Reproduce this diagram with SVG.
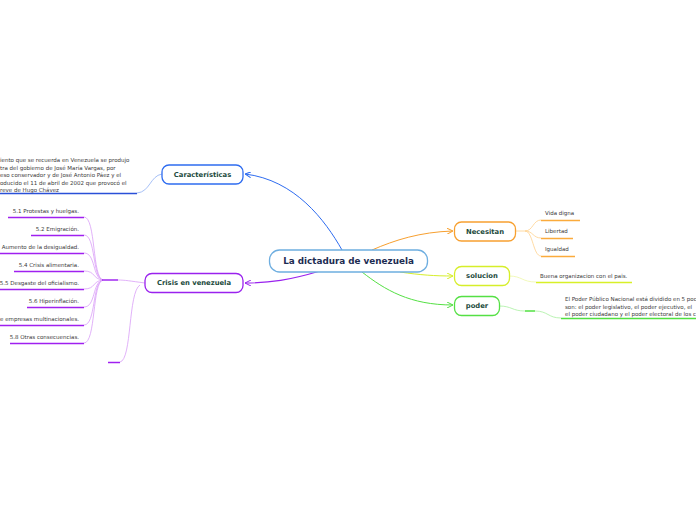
<svg xmlns="http://www.w3.org/2000/svg" width="696" height="520" viewBox="0 0 696 520">
<defs>
<style>
.node rect{fill:#fff;stroke-width:1.3}
.lbl{font-family:"DejaVu Sans",Verdana,sans-serif;font-weight:bold;fill:#1b4a3c;text-anchor:middle;dominant-baseline:central}
.sub{font-family:"DejaVu Sans",Verdana,sans-serif;font-size:5.5px;fill:#3a3a3a}
.r{text-anchor:end}
.c path{fill:none}
</style>
<marker id="aB" viewBox="0 0 6 6" refX="6" refY="3" markerWidth="6" markerHeight="6" markerUnits="userSpaceOnUse" orient="auto"><path d="M0,0 L6,3 L0,6" fill="none" stroke="#2e6cf0" stroke-width="1"/></marker>
<marker id="aP" viewBox="0 0 6 6" refX="6" refY="3" markerWidth="6" markerHeight="6" markerUnits="userSpaceOnUse" orient="auto"><path d="M0,0 L6,3 L0,6" fill="none" stroke="#9a22ee" stroke-width="1"/></marker>
<marker id="aO" viewBox="0 0 6 6" refX="6" refY="3" markerWidth="6" markerHeight="6" markerUnits="userSpaceOnUse" orient="auto"><path d="M0,0 L6,3 L0,6" fill="none" stroke="#f7a030" stroke-width="1"/></marker>
<marker id="aY" viewBox="0 0 6 6" refX="6" refY="3" markerWidth="6" markerHeight="6" markerUnits="userSpaceOnUse" orient="auto"><path d="M0,0 L6,3 L0,6" fill="none" stroke="#d6ee2a" stroke-width="1"/></marker>
<marker id="aG" viewBox="0 0 6 6" refX="6" refY="3" markerWidth="6" markerHeight="6" markerUnits="userSpaceOnUse" orient="auto"><path d="M0,0 L6,3 L0,6" fill="none" stroke="#55e044" stroke-width="1"/></marker>
</defs>
<rect width="696" height="520" fill="#fff"/>

<g id="connectors" class="c">
<path d="M342,250 C325,220 295,180 245,174" stroke="#2e6cf0" stroke-width="1" marker-end="url(#aB)"/>
<path d="M320,271 C290,280 270,283 245,283" stroke="#9a22ee" stroke-width="1.2" marker-end="url(#aP)"/>
<path d="M372,250 C395,240 420,232 453,231" stroke="#f7a030" stroke-width="1" marker-end="url(#aO)"/>
<path d="M400,272 C420,275 435,276 453,276" stroke="#d6ee2a" stroke-width="1" marker-end="url(#aY)"/>
<path d="M362,272 C385,290 410,305 453,305" stroke="#55e044" stroke-width="1" marker-end="url(#aG)"/>

<path d="M162,174 C150,176 150,192 137,193" stroke="#8fb0f4" stroke-width="0.8"/>
<path d="M0,193.5 H137" stroke="#2a50d8" stroke-width="1.5"/>

<g stroke="#d99ef8" stroke-width="0.8">
<path d="M145,283 C130,281 125,280 118,280"/>
<path d="M103,280 C92,278 96,217 84,217"/>
<path d="M103,280 C92,278 96,235 84,235"/>
<path d="M103,280 C92,278 96,253 84,253"/>
<path d="M103,280 C92,279 96,271 84,271"/>
<path d="M103,280 C92,281 96,289 84,289"/>
<path d="M103,280 C92,282 96,307 84,307"/>
<path d="M103,280 C92,282 96,325 84,325"/>
<path d="M103,280 C92,282 96,343 84,343"/>
<path d="M140,285 C128,292 132,360 120,362"/>
</g>
<path d="M102,280 H118" stroke="#a028f0" stroke-width="1.5"/>
<g stroke="#a020f0" stroke-width="1.5">
<path d="M8,217.5 H84"/>
<path d="M31,235.5 H84"/>
<path d="M0,253.5 H84"/>
<path d="M14,271.5 H84"/>
<path d="M0,289.5 H84"/>
<path d="M27,307.5 H84"/>
<path d="M0,325.5 H84"/>
<path d="M10,343.5 H84"/>
<path d="M108,362.5 H120"/>
</g>

<g stroke="#ffd08c" stroke-width="0.8">
<path d="M516,231 H525"/>
<path d="M525,231 C533,231 533,220 541,220"/>
<path d="M525,231 C533,231 533,238 541,238"/>
<path d="M525,231 C533,231 533,256 541,256"/>
</g>
<g stroke="#fbab3c" stroke-width="1.5">
<path d="M541,220.5 H580"/>
<path d="M541,238.5 H573"/>
<path d="M541,256.5 H575"/>
</g>

<path d="M509,276 C522,276 522,282 536,282" stroke="#eef8a8" stroke-width="0.8"/>
<path d="M536,282.5 H632" stroke="#d8f028" stroke-width="1.5"/>

<path d="M499,306 C512,306 512,311 525,311" stroke="#a8f0a0" stroke-width="0.8"/>
<path d="M525,311 H535" stroke="#50e040" stroke-width="1.5"/>
<path d="M535,311 C548,311 548,318 561,318" stroke="#a8f0a0" stroke-width="0.8"/>
<path d="M561,318.5 H696" stroke="#50e040" stroke-width="1.5"/>
</g>

<g id="central" class="node">
<rect x="269.5" y="250" width="158" height="22" rx="10" stroke="#6eaee0"/>
<text class="lbl" x="348.5" y="261" font-size="8.8" style="fill:#1c2c52">La dictadura de venezuela</text>
</g>
<g id="caracteristicas" class="node">
<rect x="162" y="165" width="81" height="19" rx="7" stroke="#2e6cf0"/>
<text class="lbl" x="202.5" y="174.5" font-size="6.8">Características</text>
</g>
<g id="caracteristicas-text">
<text class="sub" x="0" y="162">iento que se recuerda en Venezuela se produjo</text>
<text class="sub" x="0" y="169.5">tra del gobierno de José María Vargas, por</text>
<text class="sub" x="0" y="177">eso conservador y de José Antonio Páez y el</text>
<text class="sub" x="0" y="184.5">oducido el 11 de abril de 2002 que provocó el</text>
<text class="sub" x="0" y="192">reve de Hugo Chávez</text>
</g>
<g id="crisis" class="node">
<rect x="145" y="273.5" width="98" height="19" rx="7" stroke="#9a22ee"/>
<text class="lbl" x="194" y="283" font-size="6.8">Crisis en venezuela</text>
</g>
<g id="crisis-items">
<text class="sub r" x="79" y="213">5.1 Protestas y huelgas.</text>
<text class="sub r" x="79" y="231">5.2 Emigración.</text>
<text class="sub r" x="79" y="249">Aumento de la desigualdad.</text>
<text class="sub r" x="79" y="267">5.4 Crisis alimentaria.</text>
<text class="sub r" x="79" y="285">5.5 Desgaste del oficialismo.</text>
<text class="sub r" x="79" y="303">5.6 Hiperinflación.</text>
<text class="sub r" x="79" y="321">e empresas multinacionales.</text>
<text class="sub r" x="79" y="339">5.8 Otras consecuencias.</text>
</g>
<g id="necesitan" class="node">
<rect x="454.5" y="222" width="61" height="19" rx="7" stroke="#f7a030"/>
<text class="lbl" x="485" y="231.5" font-size="6.8">Necesitan</text>
</g>
<g id="necesitan-items">
<text class="sub" x="545" y="215">Vida digna</text>
<text class="sub" x="545" y="233">Libertad</text>
<text class="sub" x="545" y="251">Igualdad</text>
</g>
<g id="solucion" class="node">
<rect x="454.5" y="266.5" width="55" height="19" rx="7" stroke="#d6ee2a"/>
<text class="lbl" x="482" y="276" font-size="6.8">solucion</text>
</g>
<g id="solucion-item">
<text class="sub" x="540" y="278">Buena organizacion con el pais.</text>
</g>
<g id="poder" class="node">
<rect x="454.5" y="296.5" width="45" height="19" rx="7" stroke="#55e044"/>
<text class="lbl" x="477" y="306" font-size="6.8">poder</text>
</g>
<g id="poder-item">
<text class="sub" x="565" y="301">El Poder Público Nacional está dividido en 5 poc</text>
<text class="sub" x="565" y="308.5">son: el poder legislativo, el poder ejecutivo, el</text>
<text class="sub" x="565" y="316">el poder ciudadano y el poder electoral de los c</text>
</g>
</svg>
